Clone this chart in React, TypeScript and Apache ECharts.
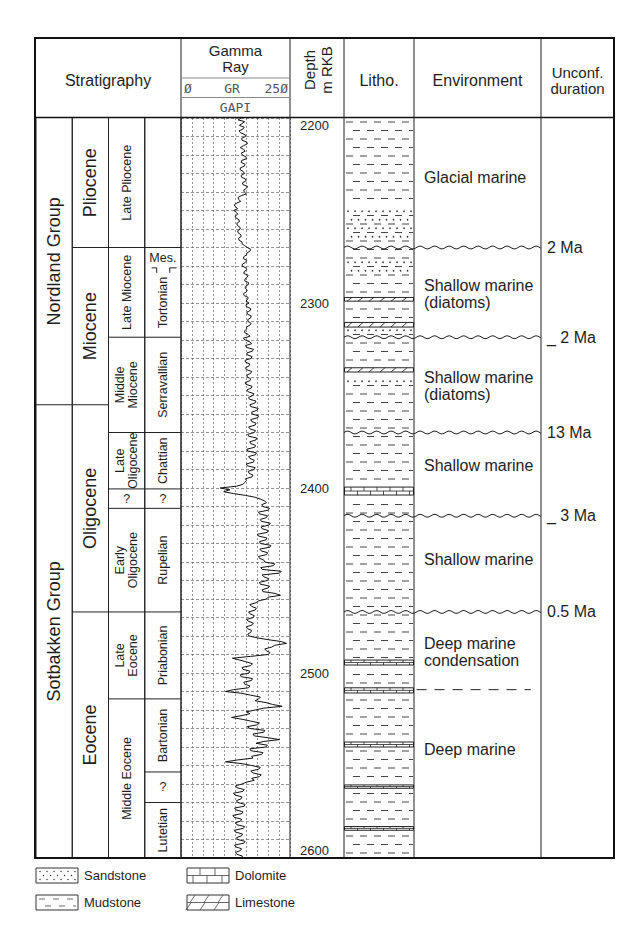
import React, { useEffect, useRef } from "react";
import * as echarts from "echarts";

const FONT = "'Liberation Sans', Arial, Helvetica, sans-serif";
const MONO = "'DejaVu Sans Mono', 'Liberation Mono', monospace";
const INK = "#1e1e1e";

// ---------------- data ----------------
const DEPTH_MIN = 2200;
const DEPTH_MAX = 2600;
const DEPTH_LABELS = [2200, 2300, 2400, 2500, 2600];

const GR_MIN = 0;
const GR_MAX = 250;
const GR_GRID_STEP = 25;
const DEPTH_GRID_STEP = 10;
const GR_FIRST_DEPTH = 2200;
const GR_SAMPLE_STEP = 1;
// Gamma ray readings (GAPI), one every metre from 2200 m
const GR_VALUES = [
  138, 131, 146, 140, 134, 145, 142, 133, 137, 147,
  148, 139, 140, 151, 152, 143, 136, 144, 147, 138,
  141, 149, 150, 139, 138, 147, 145, 136, 136, 143,
  146, 138, 139, 148, 149, 141, 142, 153, 150, 144,
  145, 150, 138, 131, 132, 137, 128, 122, 125, 130,
  121, 127, 130, 124, 126, 133, 134, 128, 129, 135,
  136, 130, 131, 137, 138, 132, 133, 140, 140, 146,
  152, 160, 158, 151, 150, 144, 143, 151, 148, 141,
  140, 149, 151, 145, 144, 154, 152, 147, 146, 155,
  154, 148, 147, 152, 150, 143, 145, 154, 153, 149,
  156, 149, 150, 160, 159, 151, 152, 161, 160, 153,
  154, 161, 158, 150, 151, 146, 146, 154, 158, 143,
  147, 158, 162, 148, 150, 166, 164, 151, 152, 163,
  160, 147, 148, 158, 156, 148, 150, 162, 160, 151,
  152, 160, 158, 147, 149, 163, 161, 151, 154, 167,
  165, 155, 157, 172, 170, 158, 160, 177, 174, 162,
  163, 178, 176, 160, 162, 172, 170, 155, 158, 171,
  168, 153, 155, 174, 172, 158, 160, 171, 169, 151,
  153, 173, 171, 155, 158, 168, 166, 150, 152, 170,
  168, 154, 156, 165, 163, 148, 150, 146, 142, 128,
  90, 112, 98, 120, 148, 170, 182, 192, 196, 185,
  188, 203, 200, 178, 180, 198, 196, 182, 184, 205,
  202, 184, 186, 200, 198, 175, 178, 197, 195, 180,
  182, 206, 204, 181, 184, 199, 196, 178, 180, 190,
  192, 215, 212, 183, 186, 230, 226, 186, 190, 201,
  198, 180, 182, 203, 200, 186, 188, 216, 228, 200,
  196, 178, 172, 158, 162, 173, 170, 155, 158, 168,
  166, 151, 154, 166, 163, 150, 152, 162, 160, 153,
  156, 175, 200, 230, 242, 215, 208, 192, 196, 204,
  200, 160, 118, 135, 150, 164, 160, 140, 142, 158,
  156, 136, 138, 164, 162, 144, 146, 158, 155, 120,
  102, 140, 160, 182, 178, 170, 195, 210, 232, 190,
  170, 150, 158, 140, 116, 140, 160, 180, 175, 152,
  158, 192, 190, 165, 168, 200, 226, 190, 172, 198,
  195, 158, 160, 188, 185, 162, 165, 130, 102, 140,
  162, 182, 178, 160, 165, 184, 180, 162, 168, 150,
  140, 125, 128, 145, 142, 120, 124, 140, 138, 127,
  130, 147, 145, 123, 126, 142, 140, 119, 122, 139,
  137, 125, 128, 146, 143, 122, 125, 141, 139, 127,
  130, 147, 144, 123, 126, 139, 136, 125, 128, 141,
  138,
];

const GROUP_NAMES = ["Nordland Group", "Sotbakken Group"];
const GROUP_BOUNDS = [2200, 2355, 2600];
const SERIES_NAMES = ["Pliocene", "Miocene", "Oligocene", "Eocene"];
const SERIES_BOUNDS = [2200, 2270, 2355, 2467, 2600];
const SUBSERIES_NAMES = [
  "Late Pliocene", "Late Miocene", "Middle\nMiocene", "Late\nOligocene", "?",
  "Early\nOligocene", "Late\nEocene", "Middle Eocene",
];
const SUBSERIES_BOUNDS = [2200, 2270, 2318.5, 2370, 2400.5, 2411, 2467, 2514, 2600];
const STAGE_NAMES = [
  "", "Mes.", "Tortonian", "Serravallian", "Chattian", "?", "Rupelian",
  "Priabonian", "Bartonian", "?", "Lutetian",
];
const STAGE_BOUNDS = [2200, 2270, 2281, 2318.5, 2370, 2400.5, 2411, 2467, 2514, 2553.5, 2570, 2600];

const LITHO_TYPES = [
  "mud", "sandmud", "mud", "sandmud", "mud", "lime", "mud", "lime", "sandmud", "mud",
  "lime", "mud", "sandmud", "mud", "dolo", "mud", "dolo", "mud", "dolo", "mud",
  "dolo", "mud", "dolo", "mud", "dolo", "mud",
];
const LITHO_BOUNDS = [
  2200, 2248, 2268, 2277, 2284, 2297, 2299, 2310.5, 2313, 2318, 2335,
  2337.3, 2340, 2346, 2399.5, 2403.8, 2493, 2495.7, 2508, 2510.8, 2537.3,
  2540, 2560.5, 2562.3, 2583, 2585, 2600,
];

const ENV_LABELS = [
  "Glacial marine", "Shallow marine\n(diatoms)", "Shallow marine\n(diatoms)",
  "Shallow marine", "Shallow marine", "Deep marine\ncondensation", "Deep marine",
];
const ENV_DEPTHS = [2232.4, 2295, 2344.6, 2387.6, 2438.4, 2488.4, 2541.6];
const ENV_BREAK_DEPTHS = [2509];

const UNCONF_LABELS = ["2 Ma", "_ 2 Ma", "13 Ma", "_ 3 Ma", "0.5 Ma"];
const UNCONF_DEPTHS = [2270, 2318.5, 2370, 2415, 2467];

const LEGEND_KINDS = ["sand", "mud", "dolo", "lime"];
const LEGEND_NAMES = ["Sandstone", "Mudstone", "Dolomite", "Limestone"];

// ---------------- layout ----------------
const GRID_TOP = 118;
const GRID_H = 740;
const GRIDS: [string, number, number][] = [
  ["strat", 36, 145],
  ["gamma", 181, 109],
  ["depth", 290, 54],
  ["litho", 344, 70],
  ["wave", 344, 197],
  ["env", 414, 127],
  ["unconf", 541, 73],
];
const STRAT_COLUMNS = [
  { names: GROUP_NAMES, bounds: GROUP_BOUNDS, size: 18, lh: 19 },
  { names: SERIES_NAMES, bounds: SERIES_BOUNDS, size: 18, lh: 19 },
  { names: SUBSERIES_NAMES, bounds: SUBSERIES_BOUNDS, size: 12.5, lh: 12.5 },
  { names: STAGE_NAMES, bounds: STAGE_BOUNDS, size: 12.5, lh: 13 },
];
type Cell = { col: number; top: number; bottom: number; label: string; size: number; lh: number };
const STRAT_CELLS: Cell[] = [];
STRAT_COLUMNS.forEach((c, col) =>
  c.names.forEach((label, i) =>
    STRAT_CELLS.push({ col, top: c.bounds[i], bottom: c.bounds[i + 1], label, size: c.size, lh: c.lh })
  )
);

const lineStyle = (w = 1, c = "#222") => ({ stroke: c, lineWidth: w });

function renderStrat(params: any, api: any) {
  const cell = STRAT_CELLS[params.dataIndex];
  const a = api.coord([cell.col, cell.top]);
  const b = api.coord([cell.col + 1, cell.bottom]);
  const x0 = a[0], y0 = a[1], x1 = b[0], y1 = b[1];
  const w = x1 - x0;
  const ch: any[] = [
    { type: "line", shape: { x1: x0, y1: y0, x2: x0, y2: y1 }, style: lineStyle() },
    { type: "line", shape: { x1: x1, y1: y0, x2: x1, y2: y1 }, style: lineStyle() },
  ];
  if (cell.top > DEPTH_MIN) {
    if (cell.label === "Tortonian") {
      ch.push({ type: "polyline", shape: { points: [[x0 + 0.19 * w, y0], [x0 + 0.33 * w, y0], [x0 + 0.33 * w, y0 + 5]] }, style: { ...lineStyle(), fill: "none" } });
      ch.push({ type: "polyline", shape: { points: [[x0 + 0.69 * w, y0 + 5], [x0 + 0.69 * w, y0], [x0 + 0.88 * w, y0]] }, style: { ...lineStyle(), fill: "none" } });
    } else {
      ch.push({ type: "line", shape: { x1: x0, y1: y0, x2: x1, y2: y0 }, style: lineStyle() });
    }
  }
  if (cell.label) {
    const flat = cell.label === "?" || cell.label === "Mes.";
    ch.push({
      type: "text",
      x: (x0 + x1) / 2,
      y: (y0 + y1) / 2,
      rotation: flat ? 0 : Math.PI / 2,
      style: {
        text: cell.label, fill: INK, fontSize: cell.size, fontFamily: FONT,
        align: "center", verticalAlign: "middle", lineHeight: cell.lh,
      },
    });
  }
  return { type: "group", children: ch };
}

function lithoChildren(kind: string, x0: number, x1: number, y0: number, y1: number, yRef: number) {
  const out: any[] = [];
  const dash = lineStyle(1, "#444");
  const ROW = 8.5;
  if (kind === "mud" || kind === "sandmud") {
    for (let k = 0; yRef + 4 + ROW * k < y1 - 1.5; k++) {
      const y = yRef + 4 + ROW * k;
      if (y < y0 + 1.5) continue;
      const off = k % 2 === 0 ? 2 : 9;
      for (let s = x0 + off - 14; s < x1; s += 14) {
        const p = Math.max(s, x0 + 1), q = Math.min(s + 7, x1 - 1);
        if (q - p > 1.5) out.push({ type: "line", shape: { x1: p, y1: y, x2: q, y2: y }, style: dash });
      }
    }
  }
  if (kind === "sandmud") {
    for (let k = 0; yRef + 4 + ROW * k + ROW / 2 < y1 - 1; k++) {
      const y = yRef + 4 + ROW * k + ROW / 2;
      if (y < y0 + 1) continue;
      for (let s = x0 + 4 + (k % 2 ? 3.5 : 0); s < x1 - 2; s += 7) {
        out.push({ type: "circle", shape: { cx: s, cy: y, r: 0.8 }, style: { fill: "#333" } });
      }
    }
  }
  if (kind === "lime" || kind === "dolo") {
    out.push({ type: "rect", shape: { x: x0 + 0.5, y: y0, width: x1 - x0 - 1, height: y1 - y0 }, style: { fill: "#fff", stroke: "#222", lineWidth: 1 } });
    if (kind === "lime") {
      for (let s = x0 + 3; s < x1 - 4; s += 11) {
        out.push({ type: "line", shape: { x1: s, y1: y1, x2: s + 5, y2: y0 }, style: lineStyle(0.9) });
      }
    } else {
      const ym = (y0 + y1) / 2;
      out.push({ type: "line", shape: { x1: x0, y1: ym, x2: x1, y2: ym }, style: lineStyle(0.8) });
      for (let s = x0 + 7; s < x1 - 2; s += 13) {
        out.push({ type: "line", shape: { x1: s, y1: y0, x2: s, y2: ym }, style: lineStyle(0.8) });
        out.push({ type: "line", shape: { x1: s + 6.5, y1: ym, x2: s + 6.5, y2: y1 }, style: lineStyle(0.8) });
      }
    }
  }
  return out;
}

function renderLitho(params: any, api: any) {
  const i = params.dataIndex;
  const a = api.coord([0, LITHO_BOUNDS[i]]);
  const b = api.coord([1, LITHO_BOUNDS[i + 1]]);
  const yRef = api.coord([0, DEPTH_MIN])[1];
  return { type: "group", children: lithoChildren(LITHO_TYPES[i], a[0], b[0], a[1], b[1], yRef) };
}

function renderWave(params: any, api: any) {
  const d = UNCONF_DEPTHS[params.dataIndex];
  const a = api.coord([0, d]);
  const b = api.coord([1, d]);
  const pts: number[][] = [];
  for (let x = a[0]; x <= b[0]; x += 1) {
    pts.push([x, a[1] - 1.4 * Math.sin(((x - a[0]) / 14.5) * 2 * Math.PI)]);
  }
  return { type: "polyline", shape: { points: pts }, style: { stroke: "#222", lineWidth: 1, fill: "none" } };
}

function renderEnv(params: any, api: any) {
  const i = params.dataIndex;
  const p = api.coord([0, ENV_DEPTHS[i]]);
  return {
    type: "text", x: p[0] + 10, y: p[1],
    style: { text: ENV_LABELS[i], fill: INK, fontSize: 16, fontFamily: FONT, align: "left", verticalAlign: "middle", lineHeight: 17 },
  };
}

function renderBreak(params: any, api: any) {
  const d = ENV_BREAK_DEPTHS[params.dataIndex];
  const a = api.coord([0.02, d]);
  const b = api.coord([0.92, d]);
  return { type: "line", shape: { x1: a[0], y1: a[1], x2: b[0], y2: b[1] }, style: { stroke: "#222", lineWidth: 1, lineDash: [10, 8] } };
}

function renderUnconf(params: any, api: any) {
  const i = params.dataIndex;
  const p = api.coord([0, UNCONF_DEPTHS[i]]);
  return {
    type: "text", x: p[0] + 6, y: p[1],
    style: { text: UNCONF_LABELS[i], fill: INK, fontSize: 16, fontFamily: FONT, align: "left", verticalAlign: "middle" },
  };
}

function renderDepth(params: any, api: any) {
  const d = DEPTH_LABELS[params.dataIndex];
  const p = api.coord([0, d]);
  const va = d === DEPTH_MIN ? "top" : d === DEPTH_MAX ? "bottom" : "middle";
  return {
    type: "text", x: p[0] + 10, y: p[1] + (d === DEPTH_MIN ? 1 : d === DEPTH_MAX ? -1 : 0),
    style: { text: String(d), fill: INK, fontSize: 13, fontFamily: FONT, align: "left", verticalAlign: va },
  };
}

function legendSwatch(kind: string, x: number, y: number, w: number, h: number) {
  const els: any[] = [{ type: "rect", shape: { x, y, width: w, height: h }, style: { fill: "#fff", stroke: "#333", lineWidth: 1 }, z: 20 }];
  const ls = lineStyle(0.8, "#444");
  if (kind === "sand") {
    for (let r = 0; r < 3; r++) {
      for (let c = 0; c < 6; c++) {
        const xx = x + 4 + c * 7 + (r % 2 ? 3.5 : 0);
        if (xx < x + w - 2) els.push({ type: "circle", shape: { cx: xx, cy: y + 3.5 + r * 4, r: 0.7 }, style: { fill: "#333" }, z: 21 });
      }
    }
  } else if (kind === "mud") {
    [0, 1].forEach((r) => {
      for (let s = x + (r ? 9 : 3); s < x + w - 3; s += 14) {
        els.push({ type: "line", shape: { x1: s, y1: y + 4 + r * 7, x2: Math.min(s + 6, x + w - 2), y2: y + 4 + r * 7 }, style: ls, z: 21 });
      }
    });
  } else {
    const ym = y + h / 2;
    els.push({ type: "line", shape: { x1: x, y1: ym, x2: x + w, y2: ym }, style: ls, z: 21 });
    if (kind === "dolo") {
      [13, 28].forEach((o) => els.push({ type: "line", shape: { x1: x + o, y1: y, x2: x + o, y2: ym }, style: ls, z: 21 }));
      [6, 20, 35].forEach((o) => els.push({ type: "line", shape: { x1: x + o, y1: ym, x2: x + o, y2: y + h }, style: ls, z: 21 }));
    } else {
      [8, 22, 36].forEach((o) => els.push({ type: "line", shape: { x1: x + o - 5, y1: ym, x2: x + o, y2: y }, style: ls, z: 21 }));
      [4, 18, 32].forEach((o) => els.push({ type: "line", shape: { x1: x + o - 5, y1: y + h, x2: x + o, y2: ym }, style: ls, z: 21 }));
    }
  }
  return els;
}

function headerText(text: string, x: number, y: number, extra: any = {}) {
  return {
    type: "text", x, y, z: 20, rotation: extra.rotation || 0,
    style: {
      text, fill: extra.fill || INK, fontSize: extra.fontSize || 16, fontFamily: extra.fontFamily || FONT,
      align: extra.align || "center", verticalAlign: "middle", lineHeight: extra.lineHeight || 17,
    },
  };
}

function buildOption() {
  const frameL = 35, frameR = 614, frameT = 38, frameB = 858;
  const colLines = [181, 290, 344, 414, 541];
  const elements: any[] = [
    { type: "rect", shape: { x: frameL, y: frameT, width: frameR - frameL, height: frameB - frameT }, style: { fill: "none", stroke: "#111", lineWidth: 2 }, z: 30 },
    { type: "line", shape: { x1: frameL, y1: 117.5, x2: frameR, y2: 117.5 }, style: lineStyle(1.3, "#111"), z: 30 },
    ...colLines.map((x) => ({ type: "line", shape: { x1: x, y1: frameT, x2: x, y2: frameB }, style: lineStyle(1, "#222"), z: 30 })),
    { type: "line", shape: { x1: 181, y1: 78, x2: 290, y2: 78 }, style: lineStyle(1, "#888"), z: 30 },
    { type: "line", shape: { x1: 181, y1: 97.5, x2: 290, y2: 97.5 }, style: lineStyle(1, "#888"), z: 30 },
    headerText("Stratigraphy", 108, 80),
    headerText("Gamma\nRay", 235.5, 58.5, { fontSize: 15, lineHeight: 16 }),
    headerText("Ø", 184, 88, { align: "left", fontFamily: MONO, fontSize: 13, fill: "#555" }),
    headerText("GR", 232, 88, { fontFamily: MONO, fontSize: 13, fill: "#555" }),
    headerText("25Ø", 288, 88, { align: "right", fontFamily: MONO, fontSize: 13, fill: "#555" }),
    headerText("GAPI", 235.5, 107, { fontFamily: MONO, fontSize: 13, fill: "#555" }),
    headerText("Depth\nm RKB", 318, 70, { rotation: Math.PI / 2, fontSize: 15, lineHeight: 17 }),
    headerText("Litho.", 379, 80),
    headerText("Environment", 477.5, 80),
    headerText("Unconf.\nduration", 577.5, 80, { fontSize: 15, lineHeight: 16 }),
  ];
  const legendPos = [[36, 868], [36, 895], [187, 868], [187, 895]];
  LEGEND_KINDS.forEach((k, i) => {
    const [x, y] = legendPos[i];
    elements.push(...legendSwatch(k, x, y, 42, 15));
    elements.push(headerText(LEGEND_NAMES[i], x + 48, y + 7.5, { align: "left", fontSize: 13, lineHeight: 15 }));
  });

  const hidden = { show: false };
  return {
    animation: false,
    backgroundColor: "#fff",
    grid: GRIDS.map(([, left, width]) => ({ left, width, top: GRID_TOP, height: GRID_H })),
    xAxis: GRIDS.map(([name], i) =>
      name === "gamma"
        ? {
            type: "value", gridIndex: i, min: GR_MIN, max: GR_MAX, interval: GR_GRID_STEP,
            axisLine: hidden, axisTick: hidden, axisLabel: hidden,
            splitLine: { show: true, lineStyle: { color: "#666", width: 0.7, type: [2, 2] } },
          }
        : { type: "value", gridIndex: i, min: 0, max: name === "strat" ? 4 : 1, show: false }
    ),
    yAxis: GRIDS.map(([name], i) =>
      name === "gamma"
        ? {
            type: "value", gridIndex: i, min: DEPTH_MIN, max: DEPTH_MAX, inverse: true, interval: DEPTH_GRID_STEP,
            axisLine: hidden, axisTick: hidden, axisLabel: hidden,
            splitLine: { show: true, lineStyle: { color: "#666", width: 0.7, type: [3, 2] } },
          }
        : { type: "value", gridIndex: i, min: DEPTH_MIN, max: DEPTH_MAX, inverse: true, show: false }
    ),
    series: [
      { type: "custom", name: "Stratigraphy", xAxisIndex: 0, yAxisIndex: 0, clip: false, silent: true, z: 5,
        data: STRAT_CELLS.map((c) => [c.col, c.top, c.bottom]), renderItem: renderStrat },
      { type: "line", name: "GR", xAxisIndex: 1, yAxisIndex: 1, symbol: "none", silent: true, z: 4,
        lineStyle: { color: "#111", width: 1 },
        data: GR_VALUES.map((v, i) => [v, GR_FIRST_DEPTH + i * GR_SAMPLE_STEP]) },
      { type: "custom", name: "Depth", xAxisIndex: 2, yAxisIndex: 2, clip: false, silent: true, z: 5,
        data: DEPTH_LABELS.map((d) => [0, d]), renderItem: renderDepth },
      { type: "custom", name: "Litho", xAxisIndex: 3, yAxisIndex: 3, clip: false, silent: true, z: 2,
        data: LITHO_TYPES.map((t, i) => [0, LITHO_BOUNDS[i], LITHO_BOUNDS[i + 1]]), renderItem: renderLitho },
      { type: "custom", name: "Unconformities", xAxisIndex: 4, yAxisIndex: 4, clip: false, silent: true, z: 6,
        data: UNCONF_DEPTHS.map((d) => [0, d]), renderItem: renderWave },
      { type: "custom", name: "Environment", xAxisIndex: 5, yAxisIndex: 5, clip: false, silent: true, z: 5,
        data: ENV_DEPTHS.map((d) => [0, d]), renderItem: renderEnv },
      { type: "custom", name: "Facies break", xAxisIndex: 5, yAxisIndex: 5, clip: false, silent: true, z: 5,
        data: ENV_BREAK_DEPTHS.map((d) => [0, d]), renderItem: renderBreak },
      { type: "custom", name: "Unconf. duration", xAxisIndex: 6, yAxisIndex: 6, clip: false, silent: true, z: 5,
        data: UNCONF_DEPTHS.map((d) => [0, d]), renderItem: renderUnconf },
    ],
    graphic: { elements },
  };
}

export default function App() {
  const ref = useRef<HTMLDivElement>(null);
  useEffect(() => {
    if (!ref.current) return;
    const chart = echarts.init(ref.current, null, { renderer: "svg" });
    chart.setOption(buildOption() as any);
    return () => chart.dispose();
  }, []);
  return (
    <div
      ref={ref}
      style={{ position: "absolute", left: 0, top: 0, width: 632, height: 944, background: "#fff" }}
    />
  );
}
